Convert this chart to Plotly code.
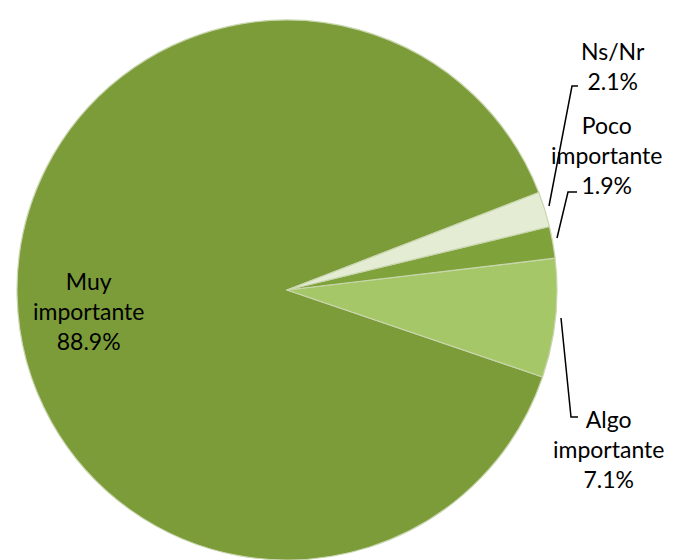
import plotly.graph_objects as go

W, H = 673, 560
OFF = 8  # page body margin offset

labels = ["Muy importante", "Algo importante", "Poco importante", "Ns/Nr"]
values = [88.9, 7.1, 1.9, 2.1]
display = ["Muy<br>importante<br>88.9%", "Algo<br>importante<br>7.1%",
           "Poco<br>importante<br>1.9%", "Ns/Nr<br>2.1%"]
colors = ["#7c9c3a", "#a6c768", "#7fa23a", "#e4ecd4"]

def px(x):
    return (x - OFF) / W

def py(y):
    return 1 - (y - OFF) / H

fig = go.Figure(go.Pie(
    labels=labels, values=values, sort=False,
    direction="counterclockwise", rotation=108.8,
    marker=dict(colors=colors, line=dict(color="#c9d6ae", width=1.2)),
    textinfo="none", hoverinfo="label+percent", showlegend=False,
    domain=dict(x=[px(17), px(557)], y=[py(560), py(20)]),
))

font = dict(family="Lato, Carlito, Calibri, sans-serif", size=23, color="#000000")
# label anchor positions (pixels in the reference)
label_pos = [(88, 311), (608, 449), (606, 155), (613, 66)]
for txt, (x, y) in zip(display, label_pos):
    fig.add_annotation(x=px(x), y=py(y), xref="paper", yref="paper", text=txt,
                       showarrow=False, font=font, align="center",
                       xanchor="center", yanchor="middle")

# leader lines
leaders = [
    [(561, 318), (571, 417), (578, 417)],
    [(557, 238), (568, 192), (577, 192)],
    [(549, 206), (572, 86), (578, 86)],
]
for pts in leaders:
    path = "M " + " L ".join(f"{px(x)},{py(y)}" for x, y in pts)
    fig.add_shape(type="path", path=path, xref="paper", yref="paper",
                  line=dict(color="#000000", width=1.5))

fig.update_layout(width=W, height=H, margin=dict(l=0, r=0, t=0, b=0),
                  paper_bgcolor="white", plot_bgcolor="white")
fig.write_html("out.html")
